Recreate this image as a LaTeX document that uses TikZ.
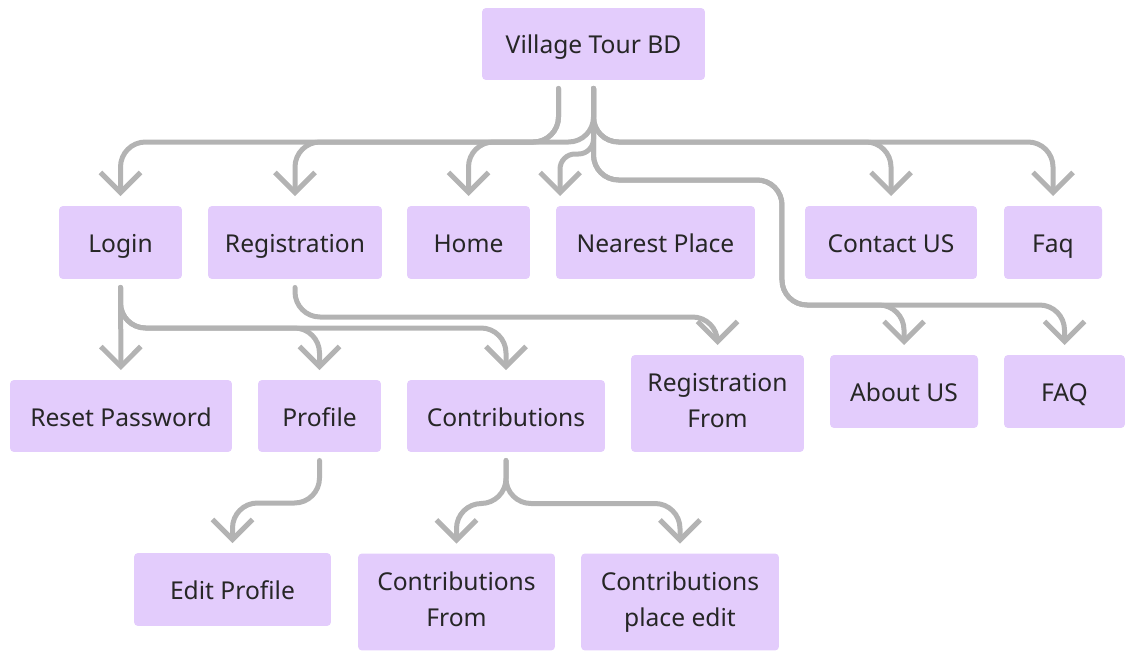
\documentclass[tikz,border=0pt]{standalone}
\usepackage{fontspec}
\setmainfont{Noto Sans}
\usetikzlibrary{arrows.meta,calc}
\definecolor{boxfill}{HTML}{E3CCFC}
\definecolor{linegray}{HTML}{B3B3B3}
\definecolor{textdark}{HTML}{262626}

\begin{document}
\begin{tikzpicture}[x=0.02cm, y=-0.02cm,
    every node/.style={fill=boxfill, text=textdark, rounded corners=0.08cm, inner sep=0pt, outer sep=0pt,
      minimum height=1.46cm, align=center, font=\fontsize{14}{20.5}\selectfont,
      execute at begin node=\rule{0pt}{14.5pt}, execute at end node=\rule[-3pt]{0pt}{3pt}},
    conn/.style={draw=linegray, line width=0.1cm, line cap=round, rounded corners=0.5cm,
      shorten <=0.17cm, shorten >=0.2cm, -{Straight Barb[length=0.4cm, width=0.8cm]}}]
      \useasboundingbox (0,0) rectangle (1125,651);
      \node[minimum width=4.46cm, minimum height=1.44cm] (vt) at (593.5,44) {Village Tour BD};
      \node[minimum width=2.46cm] (login) at (120.5,242.5) {Login};
      \node[minimum width=3.48cm] (reg) at (295,242.5) {Registration};
      \node[minimum width=2.46cm] (home) at (468.5,242.5) {Home};
      \node[minimum width=3.98cm] (near) at (655.5,242.5) {Nearest Place};
      \node[minimum width=3.44cm] (contact) at (891,242.5) {Contact US};
      \node[minimum width=1.96cm] (faq) at (1053,242.5) {Faq};
      \node[minimum width=4.44cm, minimum height=1.44cm] (reset) at (121,416) {Reset Password};
      \node[minimum width=2.46cm, minimum height=1.44cm] (profile) at (319.5,416) {Profile};
      \node[minimum width=3.96cm, minimum height=1.44cm] (contrib) at (506,416) {Contributions};
      \node[minimum width=3.46cm, minimum height=1.94cm] (regfrom) at (717.5,403.5) {Registration\\From};
      \node[minimum width=2.96cm] (about) at (904,391.5) {About US};
      \node[minimum width=2.42cm] (faqb) at (1064.5,391.5) {FAQ};
      \node[minimum width=3.94cm] (editp) at (232.5,589.5) {Edit Profile};
      \node[minimum width=3.94cm, minimum height=1.94cm] (cfrom) at (456.5,602) {Contributions\\From};
      \node[minimum width=3.96cm, minimum height=1.94cm] (cedit) at (680,602) {Contributions\\place edit};
      \coordinate (vtA) at ($(vt.south)+(-35,0)$);
      \coordinate (vtB) at (vt.south);
      \draw[conn] (vtA) |- ($(login.north)+(0,-64)$) -- (login.north);
      \draw[conn] (vtA) |- ($(reg.north)+(0,-64)$) -- (reg.north);
      \draw[conn] (vtB) |- ($(home.north)+(0,-64)$) -- (home.north);
      \draw[conn, rounded corners=0.3cm] (vtB) |- ($(near.north west)+(4,-52)$) -- ($(near.north west)+(4,0)$);
      \draw[conn] (vtB) |- ($(contact.north)+(0,-64)$) -- (contact.north);
      \draw[conn] (vtB) |- ($(faq.north)+(0,-64)$) -- (faq.north);
      \draw[conn] (vtB) |- ($(near.north east)+(27,-26)$) |- ($(about.north)+(0,-50)$) -- (about.north);
      \draw[conn] (vtB) |- ($(near.north east)+(27,-26)$) |- ($(faqb.north)+(0,-50)$) -- (faqb.north);
      \draw[conn] (login.south) -- (reset.north);
      \draw[conn] (login.south) |- ($(profile.north)+(0,-52)$) -- (profile.north);
      \draw[conn] (login.south) |- ($(contrib.north)+(0,-52)$) -- (contrib.north);
      \draw[conn] (reg.south) |- ($(regfrom.north)+(0,-38)$) -- (regfrom.north);
      \draw[conn] (profile.south) |- ($(editp.north)+(0,-50)$) -- (editp.north);
      \draw[conn] (contrib.south) |- ($(cfrom.north)+(0,-50)$) -- (cfrom.north);
      \draw[conn] (contrib.south) |- ($(cedit.north)+(0,-50)$) -- (cedit.north);
    \end{tikzpicture}
\end{document}
